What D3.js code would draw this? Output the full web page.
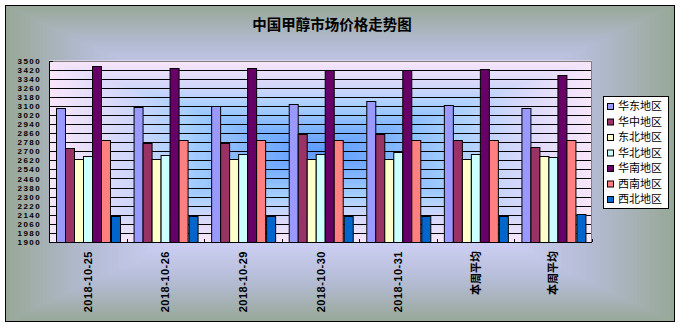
<!DOCTYPE html>
<html><head><meta charset="utf-8">
<script src="https://cdn.jsdelivr.net/npm/d3@7/dist/d3.min.js"></script>
<style>
html,body{margin:0;padding:0;background:#fff;}
svg{display:block;}
text{font-family:"Liberation Sans","DejaVu Sans",sans-serif;}
</style></head>
<body>
<svg id="chart" width="681" height="328"></svg>
<script>
const title = "中国甲醇市场价格走势图";
const categories = ["2018-10-25","2018-10-26","2018-10-29","2018-10-30","2018-10-31","本周平均","本周平均"];
const seriesNames = ["华东地区","华中地区","东北地区","华北地区","华南地区","西南地区","西北地区"];
const seriesColors = ["#9999FF","#993366","#FFFFCC","#CCFFFF","#660066","#FF8080","#0066CC"];
const huadong  = [3085,3090,3100,3120,3140,3110,3085];
const huazhong = [2730,2770,2770,2850,2850,2800,2740];
const dongbei  = [2630,2630,2630,2630,2630,2630,2660];
const huabei   = [2655,2670,2680,2680,2695,2680,2650];
const huanan   = [3450,3435,3435,3415,3415,3425,3370];
const xinan    = [2795,2795,2795,2795,2795,2795,2795];
const xibei    = [2130,2130,2130,2130,2130,2130,2150];
const yTicks = [1900,1980,2060,2140,2220,2300,2380,2460,2540,2620,2700,2780,2860,2940,3020,3100,3180,3260,3340,3420,3500];

const values = [huadong,huazhong,dongbei,huabei,huanan,xinan,xibei];
const svg = d3.select("#chart");
const plot = {left:49, right:592, top:60.5, bottom:242};

function rectGradient(g, x0, y0, w, h, interp, n) {
  const cx = x0 + w/2, cy = y0 + h/2;
  g.selectAll("rect").data(d3.range(n)).join("rect")
    .attr("x", i => cx - (w/2)*(1 - i/n))
    .attr("y", i => cy - (h/2)*(1 - i/n))
    .attr("width", i => w*(1 - i/n))
    .attr("height", i => h*(1 - i/n))
    .attr("fill", i => interp(i/(n-1)));
}

// outer chart background
const outer = {x:5, y:5, w:670, h:317};
rectGradient(svg.append("g"), outer.x, outer.y, outer.w, outer.h,
  d3.piecewise(d3.interpolateRgb, ["#98A898","#B4BCD4","#CDD0F4","#D8DAFF","#DCDCFF"]), 80);
svg.append("rect").attr("x", outer.x+0.5).attr("y", outer.y+0.5)
  .attr("width", outer.w-1).attr("height", outer.h-1)
  .attr("fill","none").attr("stroke","#000").attr("stroke-width",1);

// title
svg.append("text").attr("x", 332).attr("y", 30)
  .attr("text-anchor","middle")
  .style("font-family", '"Noto Sans CJK SC",sans-serif')
  .style("font-weight","bold").style("font-size","14.5px")
  .text(title);

// plot background
const pw = plot.right - plot.left, ph = plot.bottom - plot.top;
rectGradient(svg.append("g"), plot.left, plot.top, pw, ph,
  d3.piecewise(d3.interpolateRgb, ["#F8E6FA","#D8D8FA","#A8D0FF","#80B4FF","#5C9CFF"]), 70);

const y = d3.scaleLinear().domain([1900,3500]).range([plot.bottom, plot.top]);
const x0 = d3.scaleBand().domain(d3.range(categories.length)).range([plot.left, plot.right]).padding(0);
const x1 = d3.scaleBand().domain(d3.range(seriesNames.length)).range([0, x0.bandwidth()])
  .paddingInner(0).paddingOuter(0.75);

// gridlines
svg.append("g").selectAll("line").data(yTicks).join("line")
  .attr("x1", plot.left).attr("x2", plot.right)
  .attr("y1", d => Math.round(y(d))+0.5).attr("y2", d => Math.round(y(d))+0.5)
  .attr("stroke","#000").attr("stroke-width",1);

// plot border (gray)
svg.append("rect").attr("x", plot.left+0.5).attr("y", Math.round(plot.top)+0.5)
  .attr("width", pw-1).attr("height", Math.round(plot.bottom)-Math.round(plot.top))
  .attr("fill","none").attr("stroke","#808080");

// bars
const gGroups = svg.append("g").selectAll("g").data(categories).join("g")
  .attr("transform", (d,i) => `translate(${x0(i)},0)`);
gGroups.selectAll("rect").data((d,i) => values.map((s,k) => ({k, v:s[i]}))).join("rect")
  .attr("x", d => Math.round(x1(d.k))+0.5)
  .attr("y", d => Math.round(y(d.v))+0.5)
  .attr("width", d => Math.round(x1.bandwidth()))
  .attr("height", d => Math.round(y(1900)) - Math.round(y(d.v)))
  .attr("fill", d => seriesColors[d.k])
  .attr("stroke","#000").attr("stroke-width",1);

// axes lines
svg.append("line").attr("x1", plot.left+0.5).attr("x2", plot.left+0.5)
  .attr("y1", Math.round(plot.top)).attr("y2", Math.round(plot.bottom)+1)
  .attr("stroke","#000");
svg.append("line").attr("x1", plot.left).attr("x2", plot.right)
  .attr("y1", Math.round(plot.bottom)+0.5).attr("y2", Math.round(plot.bottom)+0.5)
  .attr("stroke","#000");

// y axis labels
const yAxis = d3.axisLeft(y).tickValues(yTicks).tickSize(0).tickPadding(8).tickFormat(d3.format("d"));
const yg = svg.append("g").attr("transform", `translate(${plot.left},0)`).call(yAxis);
yg.select(".domain").remove();
yg.selectAll("text").style("font-size","8px").style("font-weight","bold")
  .style("letter-spacing","1.4px").attr("fill","#000");
svg.append("g").selectAll("line").data(yTicks).join("line")
  .attr("x1", plot.left).attr("x2", plot.left+4)
  .attr("y1", d => Math.round(y(d))+0.5).attr("y2", d => Math.round(y(d))+0.5)
  .attr("stroke","#000");

// x category ticks
svg.append("g").selectAll("line").data(d3.range(categories.length+1)).join("line")
  .attr("x1", i => Math.round(plot.left + i*x0.step())+0.5)
  .attr("x2", i => Math.round(plot.left + i*x0.step())+0.5)
  .attr("y1", Math.round(plot.bottom)).attr("y2", Math.round(plot.bottom)-3)
  .attr("stroke","#000");

// x labels (rotated)
svg.append("g").selectAll("text").data(categories).join("text")
  .attr("transform", (d,i) => `translate(${x0(i)+x0.bandwidth()/2+4},251) rotate(-90)`)
  .attr("text-anchor","end")
  .style("font-size","11px").style("font-weight","bold")
  .style("letter-spacing", d => /\d/.test(d) ? "0.5px" : "0px")
  .style("font-family", d => /\d/.test(d) ? '"Liberation Sans",sans-serif' : '"Noto Sans CJK SC",sans-serif')
  .text(d => d);

// legend
const leg = {x:603, y:96, w:65, h:112};
svg.append("rect").attr("x", leg.x+0.5).attr("y", leg.y+0.5).attr("width", leg.w).attr("height", leg.h)
  .attr("fill","#fff").attr("stroke","#000");
const li = svg.append("g").selectAll("g").data(seriesNames).join("g")
  .attr("transform", (d,i) => `translate(${leg.x+4},${leg.y+7+i*15.5})`);
li.append("rect").attr("x",0.5).attr("y",0.5).attr("width",6).attr("height",6)
  .attr("fill",(d,i)=>seriesColors[i]).attr("stroke","#000");
li.append("text").attr("x",11).attr("y",7)
  .style("font-family",'"Noto Sans CJK SC",sans-serif').style("font-size","11px")
  .attr("fill","#000").text(d=>d);
</script>
</body></html>
